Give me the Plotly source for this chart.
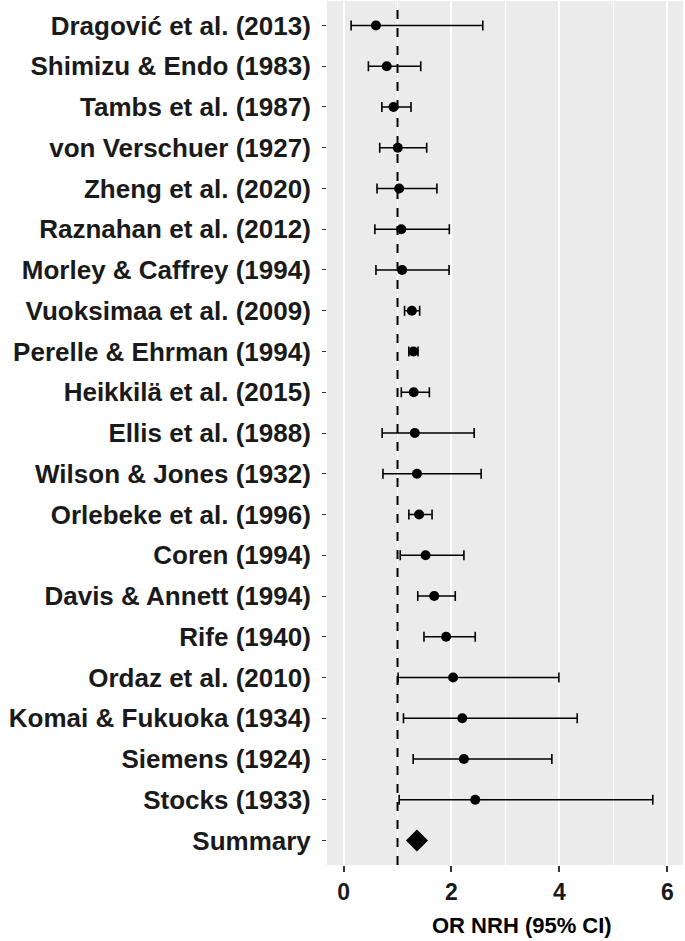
import plotly.graph_objects as go

studies = [
    "Dragović et al. (2013)", "Shimizu & Endo (1983)", "Tambs et al. (1987)",
    "von Verschuer (1927)", "Zheng et al. (2020)", "Raznahan et al. (2012)",
    "Morley & Caffrey (1994)", "Vuoksimaa et al. (2009)", "Perelle & Ehrman (1994)",
    "Heikkilä et al. (2015)", "Ellis et al. (1988)", "Wilson & Jones (1932)",
    "Orlebeke et al. (1996)", "Coren (1994)", "Davis & Annett (1994)",
    "Rife (1940)", "Ordaz et al. (2010)", "Komai & Fukuoka (1934)",
    "Siemens (1924)", "Stocks (1933)",
]
or_vals = [0.60, 0.80, 0.925, 1.005, 1.03, 1.07, 1.085, 1.265, 1.295, 1.30,
           1.32, 1.36, 1.40, 1.52, 1.68, 1.90, 2.03, 2.20, 2.23, 2.44]
ci_low = [0.14, 0.46, 0.71, 0.67, 0.62, 0.58, 0.60, 1.13, 1.21, 1.07,
          0.715, 0.73, 1.21, 1.05, 1.375, 1.49, 1.01, 1.11, 1.29, 1.03]
ci_high = [2.58, 1.43, 1.25, 1.54, 1.73, 1.96, 1.955, 1.41, 1.38, 1.59,
           2.42, 2.55, 1.64, 2.23, 2.07, 2.44, 3.99, 4.33, 3.86, 5.73]

summary_label = "Summary"
summary_or = 1.36
summary_low = 1.28
summary_high = 1.45

x_ticks = [0, 2, 4, 6]
x_title = "OR NRH (95% CI)"

font_fam = "Liberation Sans, Arial, sans-serif"

fig = go.Figure()
fig.add_trace(go.Scatter(
    x=or_vals, y=studies, mode="markers",
    marker=dict(color="black", size=10, symbol="circle"),
    error_x=dict(type="data", symmetric=False,
                 array=[h - o for h, o in zip(ci_high, or_vals)],
                 arrayminus=[o - l for o, l in zip(or_vals, ci_low)],
                 color="black", thickness=1.6, width=5),
    showlegend=False,
))
fig.add_trace(go.Scatter(
    x=[summary_or], y=[summary_label], mode="markers",
    marker=dict(color="black", size=17, symbol="diamond"),
    error_x=dict(type="data", symmetric=False,
                 array=[summary_high - summary_or],
                 arrayminus=[summary_or - summary_low],
                 color="black", thickness=1.6, width=5),
    showlegend=False,
))

fig.add_shape(type="line", xref="x", yref="paper", x0=1, x1=1, y0=0, y1=1,
              line=dict(color="black", width=2, dash="dash"))

fig.add_annotation(text=x_title, xref="paper", yref="paper",
                   x=0.548, y=-0.0706, xanchor="center", yanchor="middle",
                   showarrow=False,
                   font=dict(size=22, family=font_fam, weight="bold", color="black"))

cats = studies + [summary_label]
fig.update_layout(
    width=685, height=941,
    margin=dict(l=327, r=2, t=1, b=76),
    paper_bgcolor="white", plot_bgcolor="#EBEBEB",
    font=dict(family=font_fam, color="#111111", size=20, weight="bold"),
    xaxis=dict(
        automargin=False,
        range=[-0.307, 6.29], tickvals=x_ticks, ticktext=[str(t) for t in x_ticks],
        showgrid=True, gridcolor="white", gridwidth=2, zeroline=False,
        minor=dict(dtick=1, tick0=0, showgrid=True, gridcolor="white", gridwidth=1),
        ticks="outside", ticklen=6, tickwidth=2, tickcolor="#333333",
        tickfont=dict(size=23, family=font_fam, weight="bold", color="#1a1a1a"),
        showline=False,
    ),
    yaxis=dict(
        automargin=False,
        type="category", categoryorder="array", categoryarray=cats,
        range=[20.6, -0.6], showgrid=False, zeroline=False,
        ticks="outside", ticklen=4, tickwidth=1, tickcolor="#333333",
        tickfont=dict(size=26, family=font_fam, weight="bold", color="#1a1a1a"),
        ticklabelstandoff=6,
    ),
)

fig.write_html("out.html", config={"displayModeBar": False},
               post_script="document.body.style.margin='0';document.body.style.overflow='hidden';")
